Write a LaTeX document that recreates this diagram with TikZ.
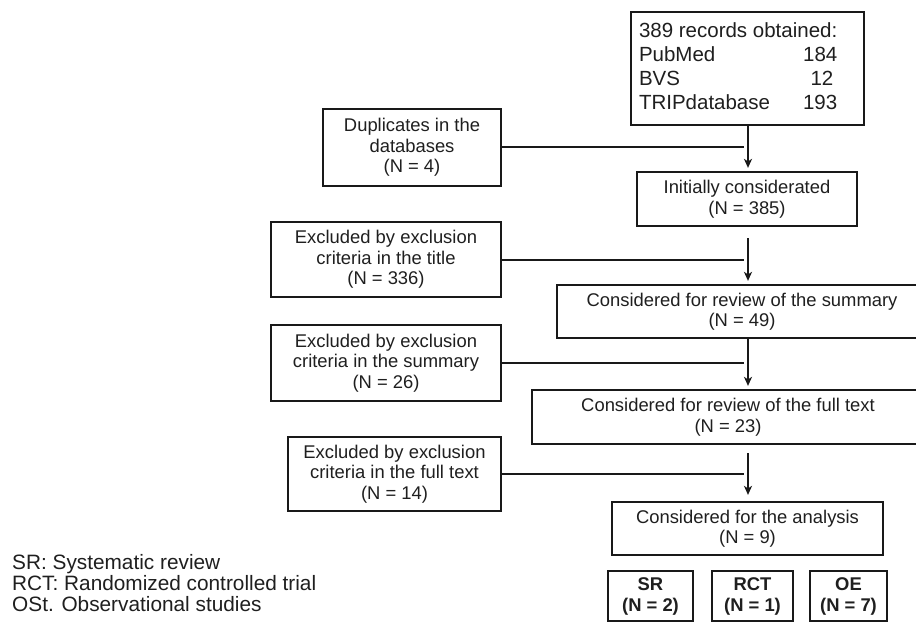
\documentclass[tikz,border=0pt]{standalone}
\usepackage{fontspec}
\setmainfont{Liberation Sans}
\usetikzlibrary{arrows.meta}
\begin{document}
\begin{tikzpicture}[x=1pt,y=-1pt,
  font=\fontsize{18.4}{20.5}\selectfont,
  box/.style={draw=black!90, line width=2.2pt, rectangle, inner sep=0pt, align=center, text=black!88},
  recbox/.style={draw=black!90, line width=2.2pt, rectangle, inner ysep=0pt, inner xsep=8pt, text=black!88},
  resbox/.style={box, line width=2.8pt, font=\fontsize{18.4}{21}\selectfont\bfseries},
  link/.style={draw=black!90, line width=2pt},
  arr/.style={link, -{Stealth[length=9pt,width=8pt,inset=2.5pt]}, shorten >=3pt},
  legend/.style={anchor=base west, inner sep=0pt, text=black!88, font=\fontsize{20.8}{21}\selectfont}]
\useasboundingbox (0,0) rectangle (916,623);
\fill[white] (0,0) rectangle (916,623);
\clip (0,0) rectangle (916,623);

\node[recbox, minimum width=233pt, minimum height=113pt] (rec) at (747.5,68.5)
  {\fontsize{20.5}{24}\selectfont\makebox[217pt][l]{\begin{tabular}{@{}p{161.8pt}@{}r@{}}\multicolumn{2}{@{}l@{}}{389 records obtained:}\\ PubMed & 184\\ BVS & 12\hspace*{4pt}\\ TRIPdatabase & 193\end{tabular}}};
\node[box, minimum width=220pt, minimum height=54pt] (init) at (747,199) {Initially considerated\\(N = 385)};
\node[box, minimum width=178pt, minimum height=77pt] (dup) at (412,147.5) {Duplicates in the\\databases\\(N = 4)};
\node[box, minimum width=230pt, minimum height=75pt] (extitle) at (386,259.5) {Excluded by exclusion\\criteria in the title\\(N = 336)};
\node[box, minimum width=370pt, minimum height=53pt] (summ) at (742,311.5) {Considered for review of the summary\\(N = 49)};
\node[box, minimum width=230pt, minimum height=76pt] (exsumm) at (386,363) {Excluded by exclusion\\criteria in the summary\\(N = 26)};
\node[box, minimum width=392pt, minimum height=54pt] (full) at (728,417) {Considered for review of the full text\\(N = 23)};
\node[box, minimum width=213pt, minimum height=74pt] (exfull) at (394.5,474) {Excluded by exclusion\\criteria in the full text\\(N = 14)};
\node[box, minimum width=271pt, minimum height=53pt] (anal) at (747.5,528.5) {Considered for the analysis\\(N = 9)};
\node[resbox, minimum width=85pt, minimum height=50pt] (sr) at (650.5,596) {SR\\(N = 2)};
\node[resbox, minimum width=81pt, minimum height=50pt] (rct) at (752.5,596) {RCT\\(N = 1)};
\node[resbox, minimum width=77pt, minimum height=50pt] (oe) at (848.5,596) {OE\\(N = 7)};

\coordinate (sp) at (748,0);
\coordinate (jn) at (744,0);
\draw[arr] (sp |- rec.south) -- (sp |- init.north);
\draw[arr, shorten <=11pt] (sp |- init.south) -- (sp |- summ.north);
\draw[arr] (sp |- summ.south) -- (sp |- full.north);
\draw[arr, shorten <=8pt, shorten >=6pt] (sp |- full.south) -- (sp |- anal.north);
\draw[link] (dup.east) -- (dup.east -| jn);
\draw[link] (extitle.east) -- (extitle.east -| jn);
\draw[link] (exsumm.east) -- (exsumm.east -| jn);
\draw[link] (exfull.east) -- (exfull.east -| jn);

\node[legend] (l1) at (12,569) {SR: Systematic review};
\node[legend] (l2) at (12,590) {RCT: Randomized controlled trial};
\node[legend] (l3) at (12,611) {OSt. Observational studies};
\end{tikzpicture}
\end{document}
